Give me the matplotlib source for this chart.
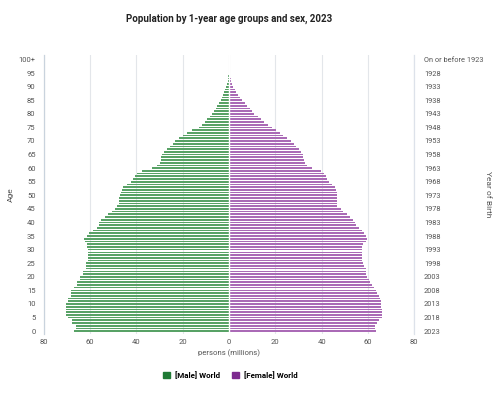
import matplotlib
matplotlib.use("Agg")
import matplotlib.pyplot as plt
from matplotlib.patches import Patch
import numpy as np

plt.rcParams['font.family'] = ['Roboto', 'DejaVu Sans']

# ages 0..100 (100 = 100+), population in millions
ages = list(range(101))
male = [67.1, 66.2, 66.2, 68.0, 68.0, 69.6, 70.3, 70.3, 70.3, 70.3,
        70.3, 69.6, 69.6, 68.5, 68.5, 68.5, 67.0, 65.6, 65.6, 64.5,
        64.5, 63.3, 63.3, 61.9, 61.9, 61.9, 60.9, 60.9, 60.9, 60.9,
        60.9, 61.3, 61.3, 62.3, 62.8, 61.3, 60.4, 58.7, 57.2, 56.0,
        56.0, 55.4, 53.6, 52.2, 50.7, 49.3, 48.6, 47.4, 47.4, 47.4,
        47.1, 46.8, 46.4, 45.7, 44.2, 42.5, 41.3, 40.6, 39.9, 37.7,
        33.3, 31.2, 30.0, 29.4, 29.3, 29.0, 28.0, 26.8, 25.7, 24.2,
        23.2, 21.7, 19.9, 18.1, 15.9, 13.0, 11.6, 10.6, 9.4, 8.3,
        7.2, 6.5, 5.8, 5.1, 4.3, 3.6, 3.0, 2.5, 2.0, 1.6,
        1.2, 0.9, 0.6, 0.45, 0.3, 0.2, 0.15, 0.1, 0.07, 0.05,
        0.1]
female = [63.7, 63.0, 63.0, 64.1, 64.9, 65.9, 65.9, 65.9, 65.9, 65.6,
          65.6, 65.6, 65.2, 64.9, 64.1, 63.4, 62.7, 61.7, 61.0, 60.5,
          59.8, 59.4, 59.1, 59.1, 58.4, 58.1, 57.4, 57.4, 57.4, 57.4,
          57.4, 57.6, 57.9, 59.1, 59.8, 59.1, 58.4, 57.4, 56.2, 54.8,
          54.3, 53.6, 52.3, 50.9, 49.4, 48.3, 46.8, 46.8, 46.8, 46.8,
          46.8, 46.5, 46.2, 45.7, 44.7, 43.2, 42.2, 41.8, 41.0, 39.9,
          35.7, 33.5, 32.7, 32.4, 32.1, 31.9, 30.9, 30.2, 28.8, 28.1,
          26.9, 25.2, 23.4, 22.0, 20.1, 18.7, 16.8, 15.1, 13.9, 12.5,
          11.0, 10.0, 9.0, 7.9, 6.7, 5.7, 4.7, 3.8, 3.1, 2.4,
          1.8, 1.4, 0.95, 0.7, 0.5, 0.35, 0.25, 0.18, 0.12, 0.08,
          0.15]

age_ticks = list(range(0, 101, 5))
age_labels = [str(a) for a in range(0, 100, 5)] + ['100+']
year_labels = [str(2023 - a) for a in range(0, 100, 5)] + ['On or before 1923']
x_ticks = [-80, -60, -40, -20, 0, 20, 40, 60, 80]

green = '#1f7a35'
purple = '#7d2a8f'

fig = plt.figure(figsize=(4.99, 3.96), dpi=100)
ax = fig.add_axes([0.088, 0.157, 0.742, 0.703])
ax_w = 0.742 * 499  # axes width in pixels, for label placement

ax.barh(ages, [-m for m in male], height=0.62, color='#58a266', linewidth=0)
ax.barh(ages, female, height=0.62, color='#aa6ab6', linewidth=0)
ax.axvline(0, color='white', lw=1.0, zorder=3)

ax.set_xlim(-80, 80)
ax.set_ylim(-1, 101.5)
ax.set_xticks(x_ticks)
ax.set_xticklabels([str(abs(v)) for v in x_ticks])
ax.set_yticks(age_ticks)
ax.set_yticklabels(age_labels)
ax.tick_params(axis='x', length=0, labelsize=5.5, labelcolor='#555555', pad=4)
ax.tick_params(axis='y', length=0, labelsize=5.5, labelcolor='#555555', pad=6)
ax.grid(axis='x', color='#e3e6ea', lw=0.8)
ax.set_axisbelow(True)
for s in ['top', 'bottom']:
    ax.spines[s].set_visible(False)
ax.spines['left'].set_color('#c9d3dd')
ax.spines['right'].set_color('#dde2ea')
ax.spines['left'].set_linewidth(0.9)
ax.spines['right'].set_linewidth(0.9)

ax.set_ylabel('Age', fontsize=6.0, color='#555555')
ax.yaxis.set_label_coords((14 - 44) / ax_w, 0.5)
ax.set_xlabel('persons (millions)', fontsize=5.6, color='#555555', labelpad=3)

ax2 = ax.twinx()
ax2.set_ylim(ax.get_ylim())
ax2.set_yticks(age_ticks)
ax2.set_yticklabels(year_labels)
ax2.tick_params(axis='y', length=0, labelsize=5.3, labelcolor='#555555', pad=7)
for s in ax2.spines.values():
    s.set_visible(False)
ax2.set_ylabel('Year of Birth', fontsize=6.0, color='#555555', rotation=270, va='center')
ax2.yaxis.set_label_coords((488 - 44) / ax_w, 0.5)

fig.suptitle('Population by 1-year age groups and sex, 2023', x=0.459, y=0.965,
             fontsize=7.0, fontweight='bold', color='#222222')

handles = [Patch(color=green, label='[Male] World'), Patch(color=purple, label='[Female] World')]
fig.legend(handles=handles, loc='center', bbox_to_anchor=(0.462, 0.053), ncol=2,
           frameon=False, prop={'size': 5.8, 'weight': 'bold'}, handlelength=0.85,
           handleheight=0.85, columnspacing=1.5, handletextpad=0.6)

fig.savefig('out.png', dpi=100, facecolor='white')
